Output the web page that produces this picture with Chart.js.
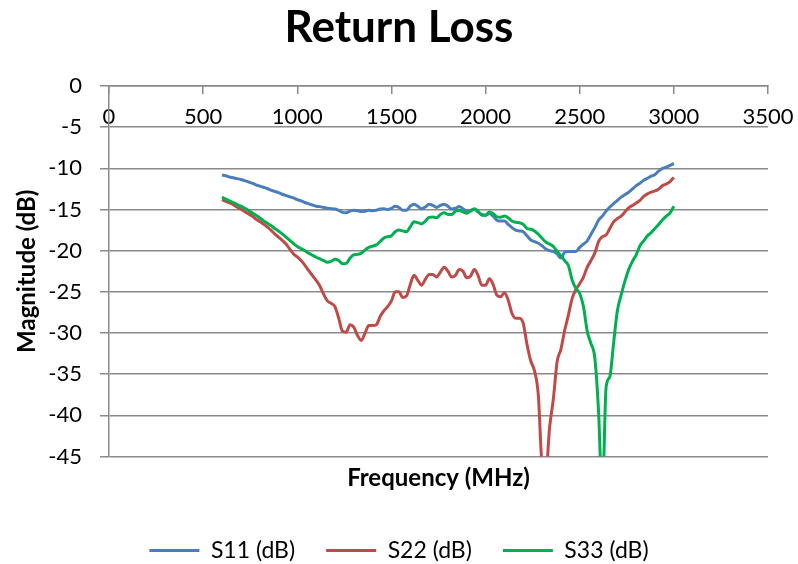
<!DOCTYPE html>
<html>
<head>
<meta charset="utf-8">
<title>Return Loss</title>
<script src="https://cdn.jsdelivr.net/npm/chart.js@4"></script>
<style>
  html, body { margin: 0; padding: 0; background: #fff; }
  #wrap { width: 798px; height: 564px; position: relative; }
</style>
</head>
<body>
<div id="wrap"><canvas id="c"></canvas></div>
<script>
// Sweep frequencies (MHz)
const freqMHz = [
  600, 620, 640, 660, 680, 700, 720, 740, 760, 780,
  800, 820, 840, 860, 880, 900, 920, 940, 960, 980,
  1000, 1020, 1040, 1060, 1080, 1100, 1120, 1140, 1160, 1180,
  1200, 1220, 1240, 1260, 1280, 1300, 1320, 1340, 1360, 1380,
  1400, 1420, 1440, 1460, 1480, 1500, 1520, 1540, 1560, 1580,
  1600, 1620, 1640, 1660, 1680, 1700, 1720, 1740, 1760, 1780,
  1800, 1820, 1840, 1860, 1880, 1900, 1920, 1940, 1960, 1980,
  2000, 2020, 2040, 2060, 2080, 2100, 2120, 2140, 2160, 2180,
  2200, 2220, 2240, 2260, 2280, 2300, 2320, 2340, 2360, 2380,
  2400, 2420, 2440, 2460, 2480, 2500, 2520, 2540, 2560, 2580,
  2600, 2620, 2640, 2660, 2680, 2700, 2720, 2740, 2760, 2780,
  2800, 2820, 2840, 2860, 2880, 2900, 2920, 2940, 2960, 2980,
  3000
];

// Port 1 return loss (dB)
const s11 = [
  -10.8, -10.9, -11.05, -11.15, -11.25, -11.35, -11.5, -11.65, -11.8, -12.0,
  -12.15, -12.3, -12.45, -12.65, -12.8, -12.95, -13.15, -13.3, -13.45, -13.6,
  -13.8, -13.95, -14.15, -14.3, -14.45, -14.6, -14.65, -14.75, -14.85, -14.9,
  -14.95, -15.1, -15.35, -15.4, -15.2, -15.1, -15.15, -15.25, -15.2, -15.1,
  -15.15, -15.1, -14.95, -14.9, -15.0, -14.85, -14.6, -14.75, -15.1, -15.1,
  -14.6, -14.35, -14.6, -14.9, -14.7, -14.35, -14.5, -14.75, -14.5, -14.35,
  -14.6, -14.95, -14.85, -14.65, -14.9, -15.2, -15.1, -15.0, -15.3, -15.6,
  -15.7, -15.5, -15.8, -16.3, -16.4, -16.4, -16.8, -17.2, -17.5, -17.6,
  -17.7, -18.2, -18.7, -18.9, -19.1, -19.4, -19.8, -20.0, -20.1, -20.4,
  -20.9, -20.2, -20.1, -20.1, -20.1, -19.6, -19.2, -18.8, -18.0, -17.2,
  -16.3, -15.8, -15.2, -14.7, -14.3, -13.9, -13.5, -13.2, -12.9, -12.5,
  -12.1, -11.8, -11.45, -11.2, -10.95, -10.75, -10.3, -10.0, -9.85, -9.65,
  -9.4
];

// Port 2 return loss (dB)
const s22 = [
  -13.8, -14.0, -14.2, -14.4, -14.7, -14.95, -15.25, -15.5, -15.8, -16.15,
  -16.45, -16.75, -17.1, -17.5, -17.95, -18.35, -18.75, -19.2, -19.8, -20.4,
  -20.75, -21.2, -21.75, -22.4, -23.0, -23.6, -24.3, -25.3, -26.1, -26.4,
  -26.8, -28.2, -29.8, -29.9, -29.0, -29.3, -30.3, -30.9, -30.0, -29.1,
  -29.1, -29.0, -28.0, -27.3, -26.8, -26.1, -25.0, -25.0, -25.7, -25.5,
  -24.1, -23.0, -23.6, -24.2, -23.5, -22.9, -22.9, -23.2, -22.6, -22.0,
  -22.5, -23.2, -23.0, -22.3, -22.5, -23.3, -23.1, -22.3, -23.0, -24.2,
  -24.2, -23.4, -24.1, -25.4, -25.6, -25.1, -26.0, -27.6, -28.2, -28.2,
  -28.8, -31.4, -33.4, -34.6, -37.5, -46.0, -47.0, -41.5, -38.0, -33.5,
  -32.0, -29.7, -27.8, -25.8, -24.7, -24.0, -23.2, -22.0, -21.2, -20.3,
  -18.9, -18.3, -18.1, -17.3, -16.5, -16.1, -15.8, -15.3, -14.8, -14.5,
  -14.2, -13.9, -13.4, -13.1, -12.9, -12.75, -12.5, -12.1, -11.9, -11.6,
  -11.1
];

// Port 3 return loss (dB)
const s33 = [
  -13.5, -13.75, -13.95, -14.15, -14.4, -14.6, -14.85, -15.1, -15.4, -15.7,
  -16.0, -16.35, -16.65, -16.95, -17.3, -17.6, -17.95, -18.35, -18.75, -19.15,
  -19.5, -19.75, -20.0, -20.3, -20.55, -20.8, -21.0, -21.2, -21.4, -21.3,
  -21.05, -21.2, -21.6, -21.55, -20.9, -20.5, -20.45, -20.3, -19.9, -19.6,
  -19.45, -19.3, -18.9, -18.45, -18.3, -18.2, -17.7, -17.5, -17.6, -17.7,
  -17.1, -16.5, -16.6, -16.75, -16.4, -15.95, -15.9, -16.0, -15.6, -15.4,
  -15.6, -15.6, -15.2, -15.1, -15.3, -15.45, -15.2, -14.9, -15.2, -15.7,
  -15.7, -15.3, -15.5, -15.9, -15.95, -15.8, -16.0, -16.4, -16.55, -16.6,
  -16.8, -17.3, -17.4, -17.6, -18.0, -18.5, -18.95, -19.2, -19.5, -20.1,
  -20.6, -21.2, -21.8, -23.6, -24.6, -25.2, -26.8, -29.8, -31.3, -33.0,
  -39.5, -50.0, -36.6, -35.3, -31.2, -27.3, -25.4, -23.7, -22.3, -21.3,
  -20.5, -19.4, -18.8, -18.2, -17.8, -17.3, -16.8, -16.25, -15.8, -15.4,
  -14.6
];

const seriesNames = ['S11 (dB)', 'S22 (dB)', 'S33 (dB)'];
const xTicksMHz = [0, 500, 1000, 1500, 2000, 2500, 3000, 3500];
const yTicksDb = [0, -5, -10, -15, -20, -25, -30, -35, -40, -45];

const COLORS = ['#4a7ebb', '#be4b48', '#00b050'];
const GRID = '#8a8a8a';

Chart.defaults.font.family = "Lato, 'Open Sans', 'DejaVu Sans', sans-serif";
Chart.defaults.color = '#000';

const toPoints = (vals) => freqMHz.map((f, i) => ({ x: f, y: vals[i] }));

const datasets = [s11, s22, s33].map((vals, i) => ({
  label: seriesNames[i],
  data: toPoints(vals),
  borderColor: COLORS[i],
  backgroundColor: COLORS[i],
  borderWidth: 3,
  pointRadius: 0,
  fill: false,
  cubicInterpolationMode: 'monotone',
  clip: 0,
  order: 3 - i
}));

new Chart(document.getElementById('c'), {
  type: 'line',
  data: { datasets },
  options: {
    responsive: true,
    maintainAspectRatio: false,
    devicePixelRatio: 1,
    animation: false,
    events: [],
    layout: { padding: { left: 0, right: 0, top: 0, bottom: -8 } },
    plugins: {
      title: {
        display: true,
        text: 'Return Loss',
        color: '#000',
        font: { size: 44, weight: 'bold' },
        padding: { top: 1, bottom: 32.2 }
      },
      legend: {
        position: 'bottom',
        labels: {
          boxWidth: 50,
          boxHeight: 3,
          padding: 31,
          color: '#000',
          font: { size: 23 },
          sort: (a, b) => a.datasetIndex - b.datasetIndex,
          generateLabels(chart) {
            const items = Chart.defaults.plugins.legend.labels.generateLabels(chart);
            items.forEach(it => { it.lineWidth = 0; it.fillStyle = it.strokeStyle; });
            return items;
          }
        }
      },
      tooltip: { enabled: false }
    },
    scales: {
      x: {
        type: 'linear',
        position: 'top',
        min: xTicksMHz[0],
        max: xTicksMHz[xTicksMHz.length - 1],
        afterBuildTicks(s) { s.ticks = xTicksMHz.map(v => ({ value: v })); },
        ticks: {
          mirror: true,
          padding: 18,
          maxRotation: 0,
          autoSkip: false,
          color: '#000',
          font: { size: 22 },
          callback: v => String(v)
        },
        grid: { drawOnChartArea: false, tickLength: -8, color: GRID, lineWidth: 1.5 },
        border: { color: GRID, width: 1.5 },
        // labels sit inside the plot, so this axis takes no room of its own
        afterFit(s) { s.height = 0; s.paddingLeft = 0; s.paddingRight = 0; }
      },
      xTitle: {
        type: 'linear',
        position: 'bottom',
        ticks: { display: false },
        grid: { display: false, drawTicks: false },
        border: { display: false },
        title: {
          display: true,
          text: 'Frequency (MHz)',
          color: '#000',
          font: { size: 24, weight: 'bold' },
          padding: { top: 7.1, bottom: 15.6 }
        }
      },
      y: {
        type: 'linear',
        position: 'left',
        min: yTicksDb[yTicksDb.length - 1],
        max: yTicksDb[0],
        afterBuildTicks(s) { s.ticks = yTicksDb.map(v => ({ value: v })); },
        ticks: {
          padding: 18,
          color: '#000',
          font: { size: 22 },
          callback: v => String(v)
        },
        grid: { color: GRID, lineWidth: 1.5, tickLength: 9 },
        border: { color: GRID, width: 1.5 },
        title: {
          display: true,
          text: 'Magnitude (dB)',
          color: '#000',
          font: { size: 24, weight: 'bold' },
          padding: { top: 12.5, bottom: 0 }
        },
        afterFit(s) { s.width = 109; }
      },
      yRight: {
        type: 'linear',
        position: 'right',
        ticks: { display: false },
        grid: { display: false, drawTicks: false },
        border: { display: false },
        afterFit(s) { s.width = 30; }
      }
    }
  }
});
</script>
</body>
</html>
